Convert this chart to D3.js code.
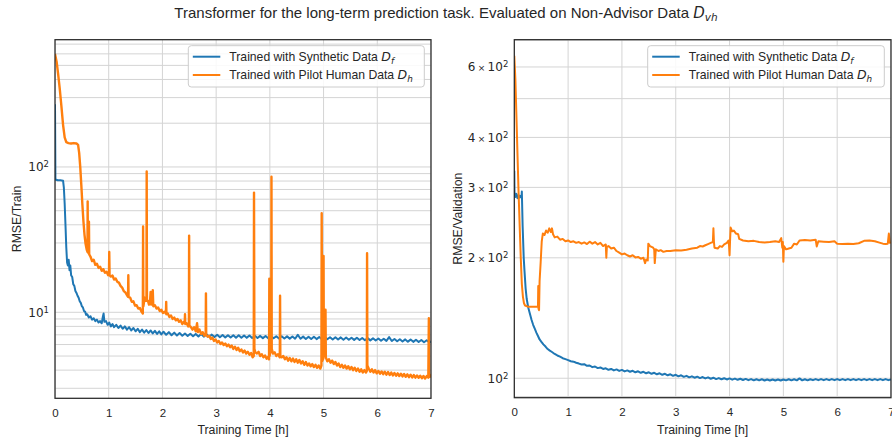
<!DOCTYPE html>
<html><head><meta charset="utf-8">
<script src="https://cdn.jsdelivr.net/npm/d3@7"></script>
<style>
body{margin:0;background:#fff}
svg{display:block}
text{font-family:"Liberation Sans",Arial,sans-serif;fill:#262626}
</style>
</head><body>
<svg id="chart" width="892" height="442"></svg>
<script>
// ---------- data ----------
const titleText = "Transformer for the long-term prediction task. Evaluated on Non-Advisor Data ";
const seriesNames = ["Trained with Synthetic Data ", "Trained with Pilot Human Data "];
const seriesSubs = ["f", "h"];
const xTicks = [0, 1, 2, 3, 4, 5, 6, 7];
const trainTickLabels = [[10, "", "10", "1"], [100, "", "10", "2"]];
const valTickLabels = [[100, "", "10", "2"], [200, "2", "10", "2"], [300, "3", "10", "2"], [400, "4", "10", "2"], [600, "6", "10", "2"]];

// Training RMSE, synthetic data  [hours, RMSE]
const trainSynthetic = [
[0,270],[0.004,150],[0.008,82],[0.05,81],[0.1,81],[0.15,80.5],[0.165,72],[0.18,56],[0.195,40],[0.21,28],[0.225,22],[0.24,21],[0.255,23],[0.27,19.5],[0.285,21],[0.3,18],[0.32,17.5],[0.34,15.6],[0.36,15.2],[0.38,14],[0.40,13.6],[0.42,13],[0.44,12.6],[0.46,11.9],[0.48,11.6],[0.50,11],[0.52,10.8],[0.54,10.2],[0.56,10.1],[0.58,9.6],[0.60,9.7],[0.63,9.2],[0.66,9.4],[0.69,8.9],[0.72,9.1],[0.75,8.7],[0.78,8.9],[0.81,8.5],[0.84,8.7],[0.87,8.4],[0.89,9.3],[0.905,9.8],[0.92,8.6],[0.95,8.7],[0.98,8.2],[1.01,8.5],[1.04,8.0],[1.07,8.3],[1.10,7.9],[1.14,8.2],[1.18,7.8],[1.22,8.1],[1.26,7.7],[1.30,8.0],[1.34,7.6],[1.38,7.9],[1.42,7.5],[1.46,7.8],[1.50,7.4],[1.54,7.7],[1.58,7.3],[1.62,7.6],[1.66,7.25],[1.70,7.55],[1.74,7.2],[1.78,7.5],[1.82,7.15],[1.86,7.45],[1.90,7.1],[1.94,7.4],[1.98,7.05],[2.02,7.35],[2.07,7.0],[2.12,7.3],[2.17,6.95],[2.22,7.25],[2.27,6.92],[2.32,7.2],[2.37,6.9],[2.42,7.15],[2.47,6.88],[2.52,7.12],[2.57,6.85],[2.62,7.1],[2.67,6.82],[2.72,7.08],[2.77,6.8],[2.82,7.05],[2.87,6.78],[2.92,7.02],[2.97,6.76],[3.02,7.0],[3.07,6.74],[3.12,6.98],[3.17,6.72],[3.22,6.96],[3.27,6.7],[3.32,6.95],[3.37,6.69],[3.42,6.94],[3.47,6.68],[3.52,6.93],[3.57,6.67],[3.62,6.92],[3.67,6.66],[3.72,6.9],[3.77,6.65],[3.82,6.88],[3.87,6.64],[3.92,6.87],[3.97,6.63],[4.02,6.86],[4.07,6.62],[4.12,6.85],[4.17,6.61],[4.22,6.84],[4.27,6.6],[4.32,6.83],[4.37,6.59],[4.42,6.82],[4.47,6.58],[4.52,7.0],[4.57,6.57],[4.62,6.8],[4.67,6.56],[4.72,6.79],[4.77,6.55],[4.82,6.78],[4.87,6.54],[4.92,6.77],[4.97,6.53],[5.02,6.8],[5.07,6.52],[5.12,6.74],[5.17,6.5],[5.22,6.73],[5.27,6.49],[5.32,6.72],[5.37,6.48],[5.42,6.7],[5.47,6.47],[5.52,6.69],[5.57,6.46],[5.62,6.68],[5.67,6.44],[5.72,6.66],[5.77,6.42],[5.82,6.64],[5.87,6.41],[5.92,6.62],[5.97,6.39],[6.02,6.6],[6.07,6.37],[6.12,6.58],[6.17,6.36],[6.22,6.75],[6.27,6.34],[6.32,6.55],[6.37,6.32],[6.42,6.53],[6.47,6.3],[6.52,6.51],[6.57,6.28],[6.62,6.49],[6.67,6.26],[6.72,6.47],[6.77,6.24],[6.82,6.45],[6.87,6.22],[6.92,6.42],[6.97,6.2],[7.0,6.3]
];

// Training RMSE, pilot human data
const trainHuman = [
[0,600],[0.03,530],[0.06,430],[0.09,340],[0.12,260],[0.15,195],[0.18,160],[0.21,148],[0.25,146],[0.30,145],[0.35,146],[0.40,145],[0.43,142],[0.45,125],[0.47,100],[0.49,75],[0.51,55],[0.53,42],[0.55,34],[0.57,29.5],[0.59,27],[0.605,26],[0.608,58],[0.612,27],[0.625,25.5],[0.632,42],[0.637,25],[0.66,24.2],[0.69,22.5],[0.72,23],[0.75,21.2],[0.78,21.6],[0.81,20.2],[0.84,20.6],[0.87,19.3],[0.9,19.8],[0.93,18.7],[0.96,19],[0.99,18],[1.005,18.4],[1.01,26],[1.016,18],[1.04,17.6],[1.07,17.9],[1.10,16.8],[1.13,17.1],[1.16,16.2],[1.19,16],[1.22,15.2],[1.25,14.8],[1.28,14],[1.31,13.7],[1.34,13.1],[1.36,12.8],[1.365,18],[1.37,12.7],[1.40,12.6],[1.43,11.8],[1.46,11.9],[1.49,11.1],[1.52,11.2],[1.55,10.6],[1.58,10.7],[1.61,10.1],[1.635,9.8],[1.64,39],[1.645,11],[1.67,12.6],[1.69,12],[1.703,12.4],[1.707,93],[1.712,12],[1.73,12],[1.75,11.3],[1.77,12],[1.78,13.8],[1.79,11.3],[1.81,11.6],[1.82,14.2],[1.83,11],[1.86,11.2],[1.89,10.6],[1.92,10.8],[1.95,10.2],[1.98,10.4],[2.01,9.9],[2.04,10.1],[2.065,9.8],[2.07,11.8],[2.075,9.7],[2.1,9.8],[2.13,9.3],[2.16,9.5],[2.19,9.0],[2.22,9.2],[2.25,8.8],[2.28,9.0],[2.31,8.6],[2.34,8.8],[2.37,8.3],[2.40,8.6],[2.415,8.4],[2.42,9.7],[2.425,8.3],[2.45,8.4],[2.48,8.0],[2.493,8.2],[2.497,33.7],[2.502,8.1],[2.53,7.9],[2.56,7.6],[2.59,7.9],[2.62,7.4],[2.645,8.4],[2.66,7.3],[2.69,7.6],[2.72,7.1],[2.75,7.3],[2.78,6.9],[2.805,7.1],[2.81,13.5],[2.815,7.0],[2.84,6.8],[2.87,6.9],[2.9,6.55],[2.93,6.7],[2.96,6.35],[2.99,6.5],[3.02,6.2],[3.05,6.35],[3.08,6.05],[3.11,6.2],[3.14,5.95],[3.17,6.1],[3.2,5.85],[3.23,6.0],[3.26,5.75],[3.29,5.9],[3.32,5.6],[3.35,5.8],[3.38,5.5],[3.41,5.7],[3.44,5.4],[3.47,5.55],[3.50,5.3],[3.53,5.45],[3.56,5.2],[3.59,5.35],[3.62,5.1],[3.65,5.25],[3.68,4.9],[3.70,5.0],[3.705,66.6],[3.712,5.6],[3.73,5.3],[3.76,5.2],[3.79,5.35],[3.82,5.0],[3.85,5.15],[3.88,4.9],[3.91,5.05],[3.94,4.8],[3.97,4.95],[3.985,4.75],[3.99,17],[3.995,5.0],[4.01,5.3],[4.025,5.5],[4.03,85.8],[4.035,5.6],[4.06,5.2],[4.09,5.3],[4.12,5.0],[4.15,5.15],[4.185,4.9],[4.19,13],[4.195,5.0],[4.22,4.9],[4.25,5.0],[4.28,4.75],[4.31,4.9],[4.34,4.65],[4.37,4.85],[4.40,4.6],[4.43,4.8],[4.46,4.55],[4.49,4.75],[4.52,4.5],[4.55,4.7],[4.58,4.45],[4.61,4.6],[4.64,4.35],[4.67,4.55],[4.70,4.3],[4.73,4.45],[4.76,4.25],[4.79,4.4],[4.82,4.2],[4.85,4.35],[4.88,4.15],[4.91,4.3],[4.94,4.1],[4.96,4.3],[4.965,48],[4.972,4.6],[4.995,4.8],[5.0,24.4],[5.005,5.0],[5.03,5.2],[5.036,10.4],[5.042,4.9],[5.07,4.6],[5.10,4.75],[5.13,4.5],[5.16,4.65],[5.19,4.4],[5.22,4.55],[5.25,4.3],[5.28,4.45],[5.31,4.2],[5.34,4.35],[5.37,4.15],[5.40,4.3],[5.43,4.1],[5.46,4.25],[5.49,4.05],[5.52,4.2],[5.55,4.0],[5.58,4.15],[5.61,3.95],[5.64,4.1],[5.67,3.9],[5.70,4.05],[5.73,3.85],[5.76,4.0],[5.79,3.85],[5.805,3.95],[5.81,25.5],[5.815,4.3],[5.84,4.1],[5.87,3.9],[5.90,4.05],[5.93,3.85],[5.96,4.0],[5.99,3.8],[6.02,3.95],[6.05,3.78],[6.08,3.92],[6.11,3.75],[6.14,3.9],[6.17,3.72],[6.20,3.88],[6.23,3.7],[6.26,3.85],[6.29,3.68],[6.32,3.82],[6.35,3.66],[6.38,3.8],[6.41,3.64],[6.44,3.78],[6.47,3.62],[6.50,3.76],[6.53,3.6],[6.56,3.74],[6.59,3.58],[6.62,3.72],[6.65,3.56],[6.68,3.7],[6.71,3.55],[6.74,3.68],[6.77,3.54],[6.80,3.66],[6.83,3.52],[6.86,3.65],[6.89,3.5],[6.92,3.64],[6.95,3.55],[6.96,9.1],[6.965,3.8],[6.98,3.6],[7.0,3.75]
];

// Validation RMSE, synthetic data
const valSynthetic = [
[0,330],[0.004,292],[0.02,284],[0.04,289],[0.06,282],[0.08,287],[0.10,283],[0.12,286],[0.135,283],[0.14,293],[0.155,240],[0.175,200],[0.19,185],[0.21,168],[0.23,158],[0.26,150],[0.29,145],[0.32,140],[0.35,136],[0.38,133],[0.41,130],[0.44,127.5],[0.47,125],[0.50,123.5],[0.54,121.5],[0.58,120],[0.62,118.3],[0.66,117.2],[0.70,116.3],[0.75,115],[0.80,114],[0.85,113.2],[0.90,112.2],[0.95,111.6],[1.0,111],[1.05,110.3],[1.1,110],[1.15,109.3],[1.2,108.8],[1.25,108.2],[1.3,108.4],[1.35,107.4],[1.4,107.6],[1.45,106.6],[1.5,107],[1.55,106],[1.6,106.4],[1.65,105.5],[1.7,105.9],[1.75,105],[1.8,105.5],[1.85,104.6],[1.9,105.2],[1.95,104.3],[2.0,104.9],[2.05,104],[2.1,104.6],[2.15,103.8],[2.2,104.4],[2.25,103.5],[2.3,104.1],[2.35,103.2],[2.4,103.8],[2.45,102.9],[2.5,103.5],[2.55,102.6],[2.6,103.2],[2.65,102.3],[2.7,102.9],[2.75,102],[2.8,102.6],[2.85,101.7],[2.9,102.3],[2.95,101.4],[3.0,102],[3.05,101.1],[3.1,101.7],[3.15,100.8],[3.2,101.4],[3.25,100.5],[3.3,101.1],[3.35,100.3],[3.4,100.9],[3.45,100.1],[3.5,100.7],[3.55,99.9],[3.6,100.5],[3.65,99.7],[3.7,100.3],[3.75,99.5],[3.8,100.1],[3.85,99.4],[3.9,100],[3.95,99.3],[4.0,99.9],[4.05,99.2],[4.1,99.8],[4.15,99.1],[4.2,99.7],[4.25,99],[4.3,99.6],[4.35,98.9],[4.4,99.5],[4.45,98.8],[4.5,99.4],[4.55,98.8],[4.6,99.4],[4.65,98.7],[4.7,99.3],[4.75,98.7],[4.8,99.3],[4.85,98.7],[4.9,99.3],[4.95,98.7],[5.0,99.3],[5.05,98.8],[5.1,99.4],[5.15,98.8],[5.2,99.4],[5.25,98.8],[5.3,99.9],[5.35,98.8],[5.4,99.4],[5.45,98.8],[5.5,99.4],[5.55,98.9],[5.6,99.5],[5.65,98.9],[5.7,99.5],[5.75,98.9],[5.8,99.5],[5.85,98.9],[5.9,99.5],[5.95,98.9],[6.0,99.5],[6.05,98.9],[6.1,99.5],[6.15,98.9],[6.2,99.5],[6.25,98.9],[6.3,99.5],[6.35,98.9],[6.4,99.5],[6.45,98.9],[6.5,99.5],[6.55,98.9],[6.6,99.5],[6.65,98.9],[6.7,99.5],[6.75,98.9],[6.8,99.5],[6.85,98.9],[6.9,99.5],[6.95,98.9],[7.0,99.3]
];

// Validation RMSE, pilot human data
const valHuman = [
[0,640],[0.02,560],[0.04,450],[0.06,360],[0.08,290],[0.10,240],[0.12,200],[0.14,172],[0.16,160],[0.18,154],[0.20,152],[0.25,151],[0.30,151],[0.35,151],[0.40,151],[0.44,151],[0.445,170],[0.45,149],[0.455,165],[0.46,148],[0.47,175],[0.49,195],[0.51,220],[0.53,230],[0.56,228],[0.59,234],[0.62,231],[0.65,237],[0.68,232],[0.70,237],[0.72,229],[0.75,225],[0.80,226],[0.85,222],[0.90,223],[0.95,220],[1.0,221],[1.05,219],[1.1,220],[1.15,218],[1.2,219],[1.25,217],[1.3,218.5],[1.35,216.5],[1.4,219.5],[1.45,217],[1.5,219],[1.55,216],[1.6,218],[1.65,214],[1.7,216],[1.71,200],[1.72,213],[1.75,214],[1.8,211],[1.85,212],[1.9,208],[1.95,206],[2.0,204],[2.05,205],[2.1,203],[2.15,201.5],[2.2,203],[2.25,200.5],[2.3,201],[2.35,199],[2.4,200],[2.43,194],[2.45,198],[2.48,197],[2.49,217],[2.52,214],[2.58,212],[2.60,210],[2.61,194],[2.63,210],[2.68,208],[2.72,209],[2.77,207],[2.83,208],[2.9,208],[3.0,209],[3.1,208.5],[3.2,209.5],[3.3,211],[3.4,212],[3.45,214],[3.5,213.5],[3.55,215],[3.6,216.5],[3.65,218],[3.69,219],[3.70,237],[3.71,219],[3.72,212],[3.78,211],[3.82,214],[3.86,213],[3.9,216],[3.95,218],[3.98,221],[3.99,215],[4.0,203],[4.01,222],[4.02,238],[4.05,233],[4.08,234],[4.12,230],[4.16,229],[4.18,223],[4.25,221],[4.35,220],[4.45,220.5],[4.55,219],[4.65,218.5],[4.75,219],[4.85,220],[4.92,219],[4.96,224],[4.98,212],[4.99,219],[5.0,195.5],[5.01,214],[5.05,210],[5.1,211],[5.15,212],[5.2,217],[5.25,216],[5.3,221],[5.4,221.5],[5.5,221],[5.6,222],[5.62,213.6],[5.65,220],[5.75,219.5],[5.85,219],[5.95,220],[6.0,217],[6.1,216.5],[6.2,217],[6.3,216.5],[6.4,217.5],[6.5,220.5],[6.6,221],[6.7,220],[6.8,218],[6.85,217],[6.9,216.5],[6.94,217],[6.96,230],[6.98,218],[7.0,219]
];

// ---------- drawing ----------
const svg = d3.select("#chart");
const blue = "#1f77b4", orange = "#ff7f0e";
const mathFont = "'DejaVu Sans', sans-serif";

svg.append("text")
  .attr("x", 446).attr("y", 18).attr("text-anchor", "middle")
  .style("font-size", "15px")
  .call(t => {
    t.append("tspan").text(titleText);
    t.append("tspan").style("font-style", "italic").style("font-family", mathFont).text("D");
    t.append("tspan").style("font-style", "italic").style("font-family", mathFont)
      .style("font-size", "10.5px").attr("dy", 3).text("vh");
  });

function panel(cfg) {
  const x = d3.scaleLinear().domain([0, 7]).range([cfg.x0, cfg.x1]);
  const y = d3.scaleLog().domain(cfg.yDomain).range([cfg.y1, cfg.y0]);
  const g = svg.append("g");
  const clipId = "clip" + cfg.id;
  svg.append("clipPath").attr("id", clipId).append("rect")
    .attr("x", cfg.x0).attr("y", cfg.y0).attr("width", cfg.x1 - cfg.x0).attr("height", cfg.y1 - cfg.y0);

  // grid
  const grid = g.append("g").attr("clip-path", `url(#${clipId})`);
  grid.selectAll("line.gy").data(cfg.yGrid).join("line")
    .attr("x1", cfg.x0).attr("x2", cfg.x1)
    .attr("y1", d => y(d)).attr("y2", d => y(d))
    .attr("stroke", "#d4d4d4").attr("stroke-width", 1);
  grid.selectAll("line.gx").data(xTicks).join("line")
    .attr("y1", cfg.y0).attr("y2", cfg.y1)
    .attr("x1", d => x(d)).attr("x2", d => x(d))
    .attr("stroke", "#d4d4d4").attr("stroke-width", 1);

  // lines
  const line = d3.line().x(d => x(d[0])).y(d => y(d[1]));
  const lg = g.append("g").attr("clip-path", `url(#${clipId})`);
  lg.append("path").datum(cfg.series[0]).attr("d", line)
    .attr("fill", "none").attr("stroke", blue).attr("stroke-width", 2).attr("stroke-linejoin", "round");
  lg.append("path").datum(cfg.series[1]).attr("d", line)
    .attr("fill", "none").attr("stroke", orange).attr("stroke-width", cfg.orangeWidth).attr("stroke-linejoin", "round");

  // frame
  g.append("rect").attr("x", cfg.x0).attr("y", cfg.y0)
    .attr("width", cfg.x1 - cfg.x0).attr("height", cfg.y1 - cfg.y0)
    .attr("fill", "none").attr("stroke", "#262626").attr("stroke-width", 1.25);

  // x axis
  const xa = g.append("g").attr("transform", `translate(0,${cfg.y1})`)
    .call(d3.axisBottom(x).tickValues(xTicks).tickSize(0).tickPadding(10.4).tickFormat(d3.format("d")));
  xa.select(".domain").remove();
  xa.selectAll("text").style("font-size", "11.5px").attr("fill", "#262626")
    .style("font-family", "'Liberation Sans', Arial, sans-serif");

  // y tick labels (mathtext-like)
  const yt = g.append("g");
  cfg.yLabels.forEach(([v, coef, base, sup]) => {
    const t = yt.append("text").attr("x", cfg.x0 - 6).attr("y", y(v)).attr("dy", "0.36em")
      .attr("text-anchor", "end").style("font-family", mathFont).style("font-size", "12px");
    if (coef) {
      t.append("tspan").text(coef + "\u2009");
      t.append("tspan").style("font-size", "9px").text("\u00d7");
      t.append("tspan").text("\u2009" + base);
    } else {
      t.append("tspan").text(base);
    }
    t.append("tspan").attr("dy", "-0.45em").style("font-size", "8.5px").text(sup);
  });

  // axis labels
  g.append("text").attr("x", (cfg.x0 + cfg.x1) / 2).attr("y", 433.5).attr("text-anchor", "middle")
    .style("font-size", "12.3px").text("Training Time [h]");
  g.append("text").attr("transform", `translate(${cfg.yLabelX},${(cfg.y0 + cfg.y1) / 2}) rotate(-90)`)
    .attr("text-anchor", "middle").style("font-size", "12.3px").text(cfg.yTitle);

  // legend
  const L = cfg.legend;
  const lgd = g.append("g");
  lgd.append("rect").attr("x", L.x).attr("y", L.y).attr("width", L.w).attr("height", L.h)
    .attr("rx", 3).attr("fill", "#fff").attr("fill-opacity", 0.85).attr("stroke", "#cccccc").attr("stroke-width", 1);
  [blue, orange].forEach((c, i) => {
    const cy = L.y + 11 + i * 18.3;
    lgd.append("line").attr("x1", L.x + 4.5).attr("x2", L.x + 32).attr("y1", cy).attr("y2", cy)
      .attr("stroke", c).attr("stroke-width", 2);
    const t = lgd.append("text").attr("x", L.x + 41).attr("y", cy + 4.4).style("font-size", "12.2px");
    t.append("tspan").text(seriesNames[i]);
    t.append("tspan").style("font-style", "italic").style("font-family", mathFont).style("font-size", "12.5px").text("D");
    t.append("tspan").style("font-style", "italic").style("font-family", mathFont)
      .style("font-size", "8.8px").attr("dy", 2.5).text(seriesSubs[i]);
  });
}

panel({
  id: "L", x0: 55, x1: 431, y0: 39.7, y1: 398.3,
  yDomain: [2.56, 751],
  yGrid: [3, 4, 5, 6, 7, 8, 9, 10, 20, 30, 40, 50, 60, 70, 80, 90, 100, 200, 300, 400, 500, 600, 700],
  yLabels: trainTickLabels,
  series: [trainSynthetic, trainHuman],
  orangeWidth: 2.4,
  yTitle: "RMSE/Train", yLabelX: 21,
  legend: { x: 188.3, y: 45.7, w: 236, h: 41.3 }
});

panel({
  id: "R", x0: 514.3, x1: 891, y0: 39.7, y1: 397.7,
  yDomain: [89.4, 702],
  yGrid: [90, 100, 200, 300, 400, 500, 600, 700],
  yLabels: valTickLabels,
  series: [valSynthetic, valHuman],
  orangeWidth: 2,
  yTitle: "RMSE/Validation", yLabelX: 461.5,
  legend: { x: 647.7, y: 45.7, w: 236.6, h: 41.3 }
});
</script>
</body></html>
